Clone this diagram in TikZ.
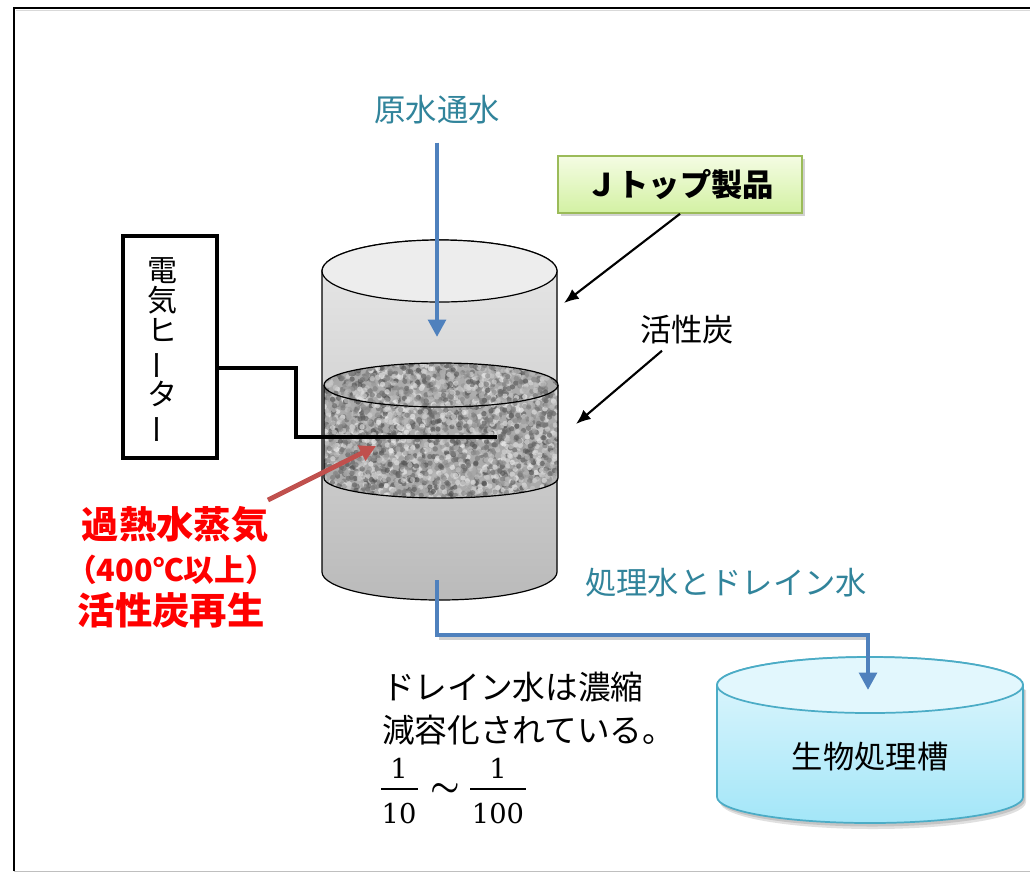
\documentclass[tikz,border=0pt]{standalone}
\usepackage[no-math]{fontspec}
\setmainfont{Noto Sans CJK JP}
\newfontfamily\fracfont{DejaVu Serif}
\usepackage{graphicx}
\usetikzlibrary{arrows.meta,shadows,calc}

\definecolor{labeltxt}{HTML}{31849B}
\definecolor{pipeblue}{HTML}{4F81BD}
\definecolor{steamred}{HTML}{C0504D}
\definecolor{jborder}{HTML}{9BBB59}
\definecolor{jtop}{HTML}{F4FCE3}
\definecolor{jbot}{HTML}{D3F1A3}
\definecolor{tankline}{HTML}{4BACC6}
\definecolor{tanktop}{HTML}{E2F7FD}
\definecolor{tankbot}{HTML}{A3E6F8}

\begin{document}
\begin{tikzpicture}[x=0.75pt,y=-0.75pt,
  txt/.style={inner sep=0pt, font=\fontsize{23.5}{28}\selectfont},
  bluetxt/.style={txt, text=labeltxt},
  redtxt/.style={inner sep=0pt, text=red, font=\bfseries\fontsize{28}{32}\selectfont},
  pipe/.style={draw=pipeblue, line width=3.6pt,
    -{Triangle[width=13pt,length=13pt]}},
  pointer/.style={draw=black, line width=1.6pt,
    -{Latex[width=9pt,length=11pt]}},
  steam/.style={draw=steamred, line width=3.6pt,
    -{Triangle[width=12pt,length=12pt]}},
  jbox/.style={draw=jborder, line width=1.2pt, top color=jtop, bottom color=jbot,
    minimum width=183pt, minimum height=42.75pt, inner sep=0pt,
    font=\bfseries\fontsize{23.5}{28}\selectfont,
    drop shadow={shadow xshift=2pt, shadow yshift=-2.5pt, opacity=0.35}},
  heaterbox/.style={draw=black, line width=3pt, minimum width=70.5pt,
    minimum height=166.5pt, inner sep=0pt},
  digit/.style={inner sep=0pt, anchor=base, font=\fracfont\fontsize{20.5}{24}\selectfont},
  fracbar/.style={line width=2pt},
]
\useasboundingbox (0,0) rectangle (1030,872);
\fill[white] (0,0) rectangle (1030,872);

% page frame
\draw[black!15, line width=1pt] (16,10.5) -- (1030,10.5);
\draw[line width=1.6pt] (14,871) -- (14,8) -- (1030,8);
\draw[black!25, line width=1pt] (14,871.2) -- (1030,871.2);

% ---- filter column ----
\path[draw=black, line width=0.9pt, top color=black!9, bottom color=black!27]
  (322,271) -- (322,572)
  arc[start angle=180, end angle=0, x radius=117.5, y radius=28]
  -- (557,271)
  arc[start angle=0, end angle=-180, x radius=117.5, y radius=31] -- cycle;
\draw[line width=0.9pt, fill=black!7] (439.5,271) ellipse[x radius=117.5, y radius=31];

% activated carbon layer with a granular texture
\begin{scope}
  \clip (324,385) -- (324,478)
    arc[start angle=180, end angle=0, x radius=117, y radius=20]
    -- (558,385)
    arc[start angle=0, end angle=-180, x radius=117, y radius=22] -- cycle;
  \fill[black!33] (320,355) rectangle (562,505);
  \pgfmathsetseed{7}
  \foreach \k in {1,...,3200}{
    \pgfmathsetmacro{\gx}{322+238*rnd}
    \pgfmathsetmacro{\gy}{360+142*rnd}
    \pgfmathsetmacro{\gs}{6+64*rnd}
    \fill[black!\gs, opacity=0.65] (\gx,\gy) circle (2pt);
  }
\end{scope}
\draw[line width=0.9pt] (324,385) -- (324,478)
    arc[start angle=180, end angle=0, x radius=117, y radius=20]
    -- (558,385)
    arc[start angle=0, end angle=-180, x radius=117, y radius=22] -- cycle;
\draw[line width=0.9pt] (324,385)
    arc[start angle=180, end angle=0, x radius=117, y radius=22];

% ---- electric heater ----
\node[heaterbox] (heater) at (170,347) {};
\node[inner sep=0pt, align=center, font=\fontsize{22.5}{22.5}\selectfont] (htxt) at (162,351)
  {電\\気\\ヒ\\\rotatebox[origin=c]{90}{ー}\\タ\\\rotatebox[origin=c]{90}{ー}};
\coordinate (wireend) at (497,437);
\draw[line width=3pt] (heater.east |- 0,368) -- (296,368) |- (wireend);

% ---- labels and pointers ----
\node[bluetxt] (raw) at (437,110) {原水通水};
\coordinate (rawtip) at (437,337);
\draw[pipe] (raw.south) ++(0,18) -- (rawtip);

\node[jbox] (jt) at (680,184.5) {Ｊトップ製品};
\coordinate (jtip) at (564,303);
\draw[pointer] (jt.south) -- (jtip);

\node[txt] (carbon) at (687,330) {活性炭};
\coordinate (ctip) at (576,424);
\draw[pointer] ($(carbon.south)+(-25,6)$) -- (ctip);

% superheated steam
\node[redtxt] (steam1) at (175,525) {過熱水蒸気};
\node[inner sep=0pt, text=red, font=\bfseries\fontsize{23}{26}\selectfont] (steam2) at (171,570) {（400℃以上）};
\node[redtxt] (steam3) at (171,610) {活性炭再生};
\coordinate (stail) at (268,500);
\coordinate (stip) at (376,446);
\draw[steam] (stail) -- (stip);

% ---- outlet to biological tank ----
\node[bluetxt] (outlbl) at (726,583) {処理水とドレイン水};

% tank shadow
\fill[black, opacity=0.12]
  (720,690) -- (720,802)
  arc[start angle=180, end angle=0, x radius=153, y radius=27]
  -- (1026,690) -- cycle;
\fill[black, opacity=0.12]
  (719,689) -- (719,800)
  arc[start angle=180, end angle=0, x radius=153, y radius=26.5]
  -- (1025,689) -- cycle;
% tank body
\path[draw=tankline, line width=1.3pt, top color=tanktop, bottom color=tankbot]
  (717,685) -- (717,797)
  arc[start angle=180, end angle=0, x radius=153, y radius=26]
  -- (1023,685)
  arc[start angle=0, end angle=-180, x radius=153, y radius=28] -- cycle;
\draw[draw=tankline, line width=1.3pt, fill=tanktop] (870,685) ellipse[x radius=153, y radius=28];
\node[txt] (bio) at (870,757) {生物処理槽};

\coordinate (outlet) at (437,580);
\coordinate (tankin) at (868,690);
\draw[black!30, line width=3pt, opacity=0.6] (439,638) -- (866,638);
\draw[pipe] (outlet) -- (437,635) -| (tankin);

% ---- note on drain water ----
\node[anchor=west, align=left, inner sep=0pt, font=\fontsize{24.5}{32}\selectfont] (drain)
  at (382,708.5) {ドレイン水は濃縮\\減容化されている。};

% ratio 1/10 ~ 1/100
\node[digit] (n1) at (399,778) {1};
\node[digit] (d1) at (399,823) {10};
\draw[fracbar] (381,789) -- (418,789);
\node[inner sep=0pt, font=\fontsize{30}{30}\selectfont\boldmath] (tilde) at (445,790) {$\sim$};
\node[digit] (n2) at (498,778) {1};
\node[digit] (d2) at (498,823) {100};
\draw[fracbar] (470,789) -- (526,789);
\end{tikzpicture}
\end{document}
